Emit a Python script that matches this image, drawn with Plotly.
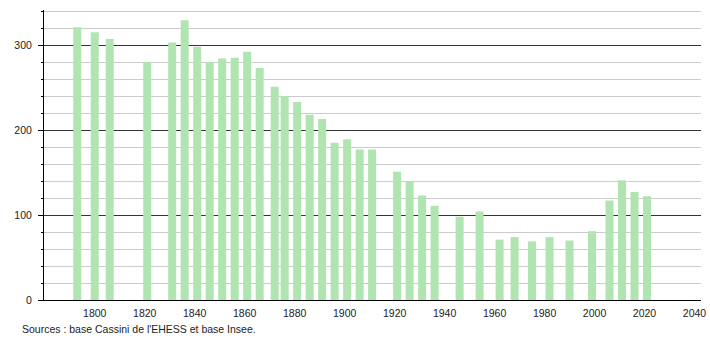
import plotly.graph_objects as go

years = [1793, 1800, 1806, 1821, 1831, 1836, 1841, 1846, 1851, 1856, 1861, 1866,
         1872, 1876, 1881, 1886, 1891, 1896, 1901, 1906, 1911, 1921, 1926, 1931,
         1936, 1946, 1954, 1962, 1968, 1975, 1982, 1990, 1999, 2006, 2011, 2016, 2021]
population = [321, 315, 307, 280, 303, 329, 298, 280, 284, 285, 292, 273,
              251, 240, 233, 218, 213, 185, 189, 177, 177, 151, 140, 123,
              111, 98, 104, 71, 74, 69, 74, 70, 81, 117, 141, 127, 122]
x_ticks = [1800, 1820, 1840, 1860, 1880, 1900, 1920, 1940, 1960, 1980, 2000, 2020, 2040]
y_ticks = [0, 100, 200, 300]
source_text = "Sources : base Cassini de l'EHESS et base Insee."

FONT = "Liberation Sans, Arial, sans-serif"

fig = go.Figure()
fig.add_trace(go.Bar(
    x=years, y=population, width=3.2,
    marker=dict(color="rgb(176,228,176)", line=dict(width=0)),
    hoverinfo="x+y",
))

fig.update_layout(
    width=710, height=340,
    margin=dict(l=44, r=9, t=10, b=40, autoexpand=False),
    paper_bgcolor="white", plot_bgcolor="white",
    showlegend=False,
    font=dict(family=FONT, size=10.5, color="#222"),
    xaxis=dict(
        range=[1779.7, 2042.6], automargin=False,
        tickmode="array", tickvals=x_ticks,
        ticktext=[str(v) for v in x_ticks],
        showgrid=False, zeroline=False,
        showline=True, linecolor="black", linewidth=1,
        ticks="", ticklabelstandoff=3,
        tickfont=dict(family=FONT, size=10.5, color="#222"),
    ),
    yaxis=dict(
        range=[0, 341.2], automargin=False,
        tickmode="array", tickvals=y_ticks,
        ticktext=[str(v) for v in y_ticks],
        showgrid=True, gridcolor="#333", gridwidth=1,
        zeroline=False,
        showline=True, linecolor="black", linewidth=1,
        ticks="outside", ticklen=5, tickcolor="black", tickwidth=1,
        ticklabelstandoff=4,
        tickfont=dict(family=FONT, size=10.5, color="#222"),
        minor=dict(dtick=20, tick0=0, showgrid=True, gridcolor="#cccccc",
                   gridwidth=1, ticks="outside", ticklen=2, tickcolor="black"),
    ),
    annotations=[dict(
        text=source_text, xref="paper", yref="paper",
        x=(20 - 44) / 657, y=-29 / 290, xanchor="left", yanchor="middle",
        showarrow=False, font=dict(family=FONT, size=10.5, color="#222"),
    )],
)

fig.write_html("out.html")
